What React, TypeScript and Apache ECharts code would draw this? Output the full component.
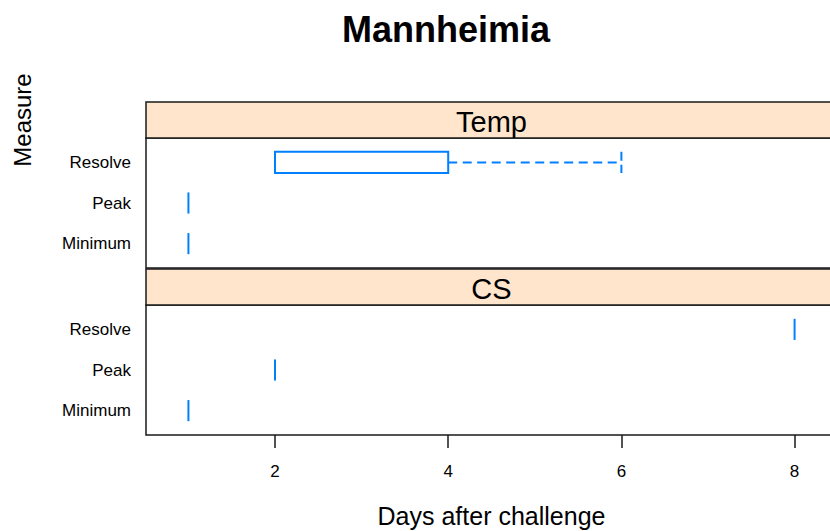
import React, { useEffect, useRef } from "react";
import * as echarts from "echarts";

const measures = ["Minimum", "Peak", "Resolve"];
const panels = ["Temp", "CS"];
// five-number summaries [min, q1, median, q3, max] for Minimum, Peak, Resolve
const tempStats = [
  [1, 1, 1, 1, 1],
  [1, 1, 1, 1, 1],
  [2, 2, 2, 4, 6],
];
const csStats = [
  [1, 1, 1, 1, 1],
  [2, 2, 2, 2, 2],
  [8, 8, 8, 8, 8],
];
const xTicks = [2, 4, 6, 8];

const FONT = "Liberation Sans, Arial, Helvetica, sans-serif";
const BLUE = "#0080ff";
const FRAME = "#1a1a1a";

const GL = 146;
const GW = 691;
const grids = [
  { top: 138, height: 130 },
  { top: 305, height: 130 },
];
const stripH = 36;

function renderItem(params: any, api: any) {
  const y = api.value(0);
  const mn = api.value(1);
  const q1 = api.value(2);
  const md = api.value(3);
  const q3 = api.value(4);
  const mx = api.value(5);
  const h = api.size([0, 0.52])[1];
  const pMin = api.coord([mn, y]);
  const pQ1 = api.coord([q1, y]);
  const pMd = api.coord([md, y]);
  const pQ3 = api.coord([q3, y]);
  const pMax = api.coord([mx, y]);
  const cy = pMd[1];
  const children: any[] = [];
  const dashed = { stroke: BLUE, lineWidth: 2, lineDash: [9, 5.5] };
  const capDash = { stroke: BLUE, lineWidth: 2, lineDash: [9, 4] };
  if (q1 > mn) {
    children.push({ type: "line", shape: { x1: pMin[0], y1: cy, x2: pQ1[0], y2: cy }, style: dashed });
    children.push({ type: "line", shape: { x1: pMin[0], y1: cy - h / 2, x2: pMin[0], y2: cy + h / 2 }, style: capDash });
  }
  if (mx > q3) {
    children.push({ type: "line", shape: { x1: pQ3[0], y1: cy, x2: pMax[0], y2: cy }, style: dashed });
    children.push({ type: "line", shape: { x1: pMax[0], y1: cy - h / 2, x2: pMax[0], y2: cy + h / 2 }, style: capDash });
  }
  if (q3 > q1) {
    children.push({
      type: "rect",
      shape: { x: pQ1[0], y: cy - h / 2, width: pQ3[0] - pQ1[0], height: h },
      style: { fill: "rgba(0,0,0,0)", stroke: BLUE, lineWidth: 2 },
    });
  }
  children.push({
    type: "line",
    shape: { x1: pMd[0], y1: cy - h / 2, x2: pMd[0], y2: cy + h / 2 },
    style: { stroke: BLUE, lineWidth: 2 },
  });
  return { type: "group", children };
}

export default function App() {
  const ref = useRef<HTMLDivElement>(null);
  useEffect(() => {
    if (!ref.current) return;
    const chart = echarts.init(ref.current, undefined, { renderer: "svg" });
    const allStats = [tempStats, csStats];
    const option: any = {
      animation: false,
      backgroundColor: "#ffffff",
      textStyle: { fontFamily: FONT },
      title: {
        text: "Mannheimia",
        left: 441,
        textAlign: "center",
        top: 6,
        textStyle: { fontFamily: FONT, fontSize: 36, fontWeight: "bold", color: "#000" },
      },
      grid: grids.map((g) => ({
        left: GL,
        top: g.top,
        width: GW,
        height: g.height,
        show: false,
        outerBoundsMode: "none",
        containLabel: false,
      })),
      xAxis: grids.map((g, i) => ({
        type: "value",
        gridIndex: i,
        min: 0.51,
        max: 8.49,
        show: i === 1,
        splitLine: { show: false },
        axisLine: { show: false },
        axisTick: {
          show: true,
          customValues: xTicks,
          length: 13,
          lineStyle: { color: FRAME, width: 1.5 },
        },
        axisLabel: {
          customValues: xTicks,
          fontSize: 17,
          color: "#000",
          margin: 28,
          fontFamily: FONT,
        },
        name: i === 1 ? "Days after challenge" : "",
        nameLocation: "middle",
        nameGap: 68,
        nameTextStyle: { fontSize: 25, color: "#000", fontFamily: FONT },
      })),
      yAxis: grids.map((g, i) => ({
        type: "value",
        gridIndex: i,
        min: 0.4,
        max: 3.6,
        splitLine: { show: false },
        axisLine: { show: false },
        axisTick: { show: false },
        axisLabel: {
          customValues: [1, 2, 3],
          formatter: (v: number) => measures[Math.round(v) - 1],
          fontSize: 17,
          color: "#000",
          margin: 15,
          fontFamily: FONT,
        },
      })),
      graphic: [
        ...grids.map((g) => ({
          type: "rect",
          shape: { x: GL, y: g.top, width: GW, height: g.height },
          style: { fill: "rgba(0,0,0,0)", stroke: FRAME, lineWidth: 1.5 },
          z: -1,
        })),
        ...grids.map((g) => ({
          type: "rect",
          shape: { x: GL, y: g.top - stripH, width: GW, height: stripH },
          style: { fill: "#ffe5cc", stroke: FRAME, lineWidth: 1.5 },
        })),
        ...grids.map((g, i) => ({
          type: "text",
          x: GL + GW / 2,
          y: g.top - stripH / 2 + 2,
          style: {
            text: panels[i],
            fontSize: 29,
            fontFamily: FONT,
            fill: "#000",
            align: "center",
            verticalAlign: "middle",
          },
        })),
        {
          type: "text",
          x: 22,
          y: 120,
          rotation: Math.PI / 2,
          style: {
            text: "Measure",
            fontSize: 24,
            fontFamily: FONT,
            fill: "#000",
            align: "center",
            verticalAlign: "middle",
          },
        },
      ],
      series: allStats.map((stats, i) => ({
        type: "custom",
        coordinateSystem: "cartesian2d",
        xAxisIndex: i,
        yAxisIndex: i,
        renderItem,
        encode: { x: [1, 2, 3, 4, 5], y: 0 },
        data: stats.map((s, k) => [k + 1, ...s]),
        clip: false,
      })),
    };
    chart.setOption(option);
    return () => chart.dispose();
  }, []);
  return (
    <div
      ref={ref}
      style={{ position: "absolute", left: 0, top: 0, width: 830, height: 531 }}
    />
  );
}
